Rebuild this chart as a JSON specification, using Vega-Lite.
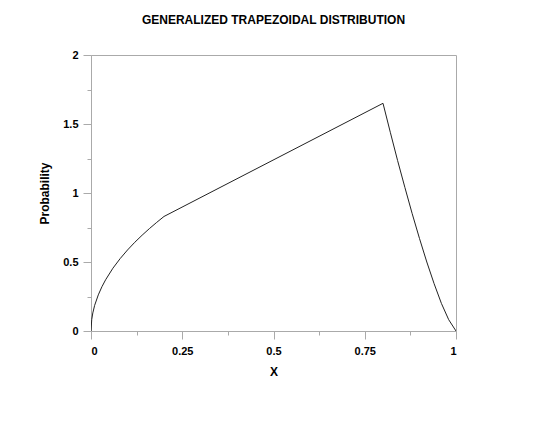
{
  "$schema": "https://vega.github.io/schema/vega-lite/v6.json",
  "width": 365,
  "height": 276,
  "autosize": {"type": "none"},
  "padding": {"left": 91, "top": 55, "right": 94, "bottom": 94},
  "background": "white",
  "config": {
    "view": {"stroke": "#aaaaaa", "strokeWidth": 1},
    "font": "Liberation Sans",
    "axis": {
      "domainColor": "#aaaaaa",
      "tickColor": "#aaaaaa",
      "grid": false,
      "labelFont": "Liberation Sans",
      "labelFontWeight": "bold",
      "labelFontSize": 11,
      "labelColor": "black",
      "titleFont": "Liberation Sans",
      "titleFontWeight": "bold",
      "titleFontSize": 12,
      "titleColor": "black"
    }
  },
  "title": {
    "text": "GENERALIZED TRAPEZOIDAL DISTRIBUTION",
    "font": "Liberation Sans",
    "fontSize": 12,
    "fontWeight": "bold",
    "color": "black",
    "anchor": "middle",
    "offset": 22
  },
  "data": {
    "values": [
      {"x": 0, "y": 0},
      {"x": 0.002, "y": 0.083},
      {"x": 0.005, "y": 0.131},
      {"x": 0.01, "y": 0.186},
      {"x": 0.02, "y": 0.262},
      {"x": 0.03, "y": 0.321},
      {"x": 0.04, "y": 0.371},
      {"x": 0.06, "y": 0.455},
      {"x": 0.08, "y": 0.525},
      {"x": 0.10, "y": 0.587},
      {"x": 0.12, "y": 0.643},
      {"x": 0.14, "y": 0.694},
      {"x": 0.16, "y": 0.742},
      {"x": 0.18, "y": 0.787},
      {"x": 0.2, "y": 0.83},
      {"x": 0.8, "y": 1.65},
      {"x": 0.82, "y": 1.44},
      {"x": 0.84, "y": 1.235},
      {"x": 0.86, "y": 1.04},
      {"x": 0.88, "y": 0.85},
      {"x": 0.90, "y": 0.67},
      {"x": 0.92, "y": 0.50},
      {"x": 0.94, "y": 0.343},
      {"x": 0.96, "y": 0.20},
      {"x": 0.98, "y": 0.082},
      {"x": 1.0, "y": 0}
    ]
  },
  "mark": {"type": "line", "color": "#222222", "strokeWidth": 1, "clip": true},
  "encoding": {
    "x": {
      "field": "x",
      "type": "quantitative",
      "scale": {"domain": [0, 1], "nice": false, "zero": false},
      "axis": {
        "title": "X",
        "values": [0, 0.125, 0.25, 0.375, 0.5, 0.625, 0.75, 0.875, 1],
        "labelExpr": "datum.value % 0.25 == 0 ? datum.value + '' : ''",
        "tickSize": {"condition": {"test": "datum.value % 0.25 == 0", "value": 8}, "value": 4},
        "labelPadding": 6,
        "titlePadding": 10
      }
    },
    "y": {
      "field": "y",
      "type": "quantitative",
      "scale": {"domain": [0, 2], "nice": false, "zero": false},
      "axis": {
        "title": "Probability",
        "values": [0, 0.25, 0.5, 0.75, 1, 1.25, 1.5, 1.75, 2],
        "labelExpr": "datum.value % 0.5 == 0 ? datum.value + '' : ''",
        "tickSize": {"condition": {"test": "datum.value % 0.5 == 0", "value": 8}, "value": 4},
        "labelPadding": 5,
        "titlePadding": 11
      }
    }
  }
}
